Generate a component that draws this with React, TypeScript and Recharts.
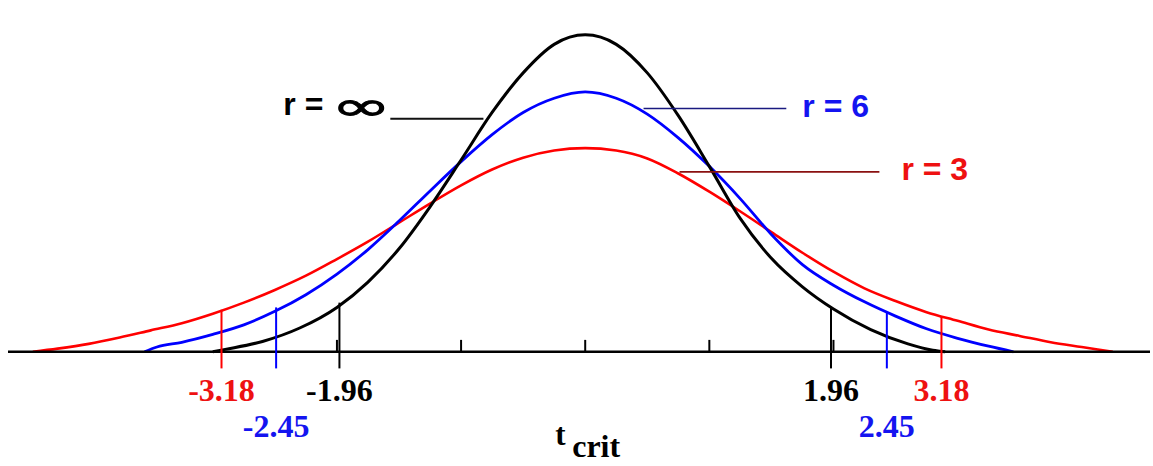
import React from "react";
import { LineChart, Line, XAxis, YAxis, ReferenceLine } from "recharts";

// r = infinity (normal) curve
const infX = [-3.0, -2.9, -2.6, -2.3, -2.0, -1.75, -1.5, -1.25, -1.0, -0.75, -0.5, -0.25, 0, 0.25, 0.5, 0.75, 1.0, 1.25, 1.5, 1.75, 2.0, 2.3, 2.6, 2.8, 2.9];
const infY = [0, 0.003, 0.013, 0.03, 0.056, 0.088, 0.13, 0.183, 0.242, 0.302, 0.352, 0.388, 0.4, 0.388, 0.352, 0.298, 0.234, 0.168, 0.118, 0.082, 0.054, 0.028, 0.01, 0.002, 0];

// r = 6
const r6X = [-3.55, -3.45, -3.25, -3.0, -2.75, -2.5, -2.25, -2.0, -1.75, -1.5, -1.25, -1.0, -0.75, -0.5, -0.25, 0, 0.25, 0.5, 0.75, 1.0, 1.25, 1.5, 1.75, 2.0, 2.25, 2.5, 2.75, 3.0, 3.25, 3.45];
const r6Y = [0, 0.006, 0.012, 0.022, 0.034, 0.051, 0.072, 0.098, 0.129, 0.165, 0.203, 0.24, 0.274, 0.302, 0.32, 0.328, 0.32, 0.3, 0.27, 0.234, 0.193, 0.148, 0.11, 0.084, 0.063, 0.045, 0.029, 0.017, 0.007, 0];

// r = 3
const r3X = [-4.45, -4.25, -4.0, -3.75, -3.5, -3.25, -3.0, -2.75, -2.5, -2.25, -2.0, -1.75, -1.5, -1.25, -1.0, -0.75, -0.5, -0.25, 0, 0.25, 0.5, 0.75, 1.0, 1.25, 1.5, 1.75, 2.0, 2.25, 2.5, 2.75, 3.0, 3.25, 3.5, 3.75, 4.0, 4.25];
const r3Y = [0, 0.004, 0.01, 0.018, 0.027, 0.036, 0.048, 0.062, 0.078, 0.096, 0.117, 0.139, 0.163, 0.187, 0.21, 0.23, 0.245, 0.254, 0.257, 0.254, 0.244, 0.225, 0.202, 0.177, 0.151, 0.125, 0.101, 0.08, 0.064, 0.05, 0.039, 0.028, 0.02, 0.012, 0.006, 0];

// critical values: where the tick is drawn, how high it reaches, and its label
const critPos = [-2.93, -2.49, -1.98, 1.98, 2.43, 2.87];
const critTop = [0.053, 0.056, 0.062, 0.057, 0.049, 0.044];
const critLabels = ["-3.18", "-2.45", "-1.96", "1.96", "2.45", "3.18"];
const critSeries = ["r3", "r6", "inf", "inf", "r6", "r3"];
const critBottom = -0.021;

const minorTicks = [-2, -1, 0, 1, 2];

// pointer lines to the curve names
const leaderSeries = ["inf", "r6", "r3"];
const leaderFrom = [-1.57, 0.47, 0.76];
const leaderTo = [-0.82, 1.62, 2.37];
const leaderY = [0.294, 0.307, 0.227];

const W = 1153;
const H = 466;

const colors: Record<string, string> = { inf: "#000000", r6: "#0000ff", r3: "#ff0000" };
const textColors: Record<string, string> = { inf: "#000000", r6: "#1414f0", r3: "#ee1111" };
const leaderColors: Record<string, string> = { inf: "#111111", r6: "#1a1a80", r3: "#8a1010" };
// blue labels sit on a second row
const labelDrop: Record<string, number> = { inf: 33, r6: 69, r3: 33 };

const zip = (xs: number[], ys: number[]) => xs.map((x, i) => ({ x, y: ys[i] }));

const serif = "'Liberation Serif', 'Times New Roman', serif";
const sans = "'Liberation Sans', Arial, sans-serif";

const critLabel = (text: string, series: string) => (p: any) => {
  const vb = p.viewBox;
  return (
    <text
      x={vb.x + vb.width / 2}
      y={vb.y + vb.height + labelDrop[series]}
      textAnchor="middle"
      fill={textColors[series]}
      fontFamily={serif}
      fontWeight="bold"
      fontSize={32}
    >
      {text}
    </text>
  );
};

const leaderLabel = (series: string) => (p: any) => {
  const vb = p.viewBox;
  if (series === "inf") {
    return (
      <g>
        <text x={vb.x - 107} y={vb.y - 4} fill="#000" fontFamily={sans} fontWeight="bold" fontSize={32}>
          r =
        </text>
        <text
          transform={`translate(${vb.x - 59}, ${vb.y + 1}) scale(1.8, 1)`}
          fill="#000"
          stroke="#000"
          strokeWidth={0.9}
          fontFamily="'DejaVu Sans', sans-serif"
          fontSize={40}
        >
          ∞
        </text>
      </g>
    );
  }
  const gap = series === "r6" ? 16 : 22;
  return (
    <text
      x={vb.x + vb.width + gap}
      y={vb.y + 8}
      fill={textColors[series]}
      fontFamily={sans}
      fontWeight="bold"
      fontSize={32}
    >
      {series === "r6" ? "r = 6" : "r = 3"}
    </text>
  );
};

const tCritLabel = (p: any) => {
  const vb = p.viewBox;
  const bottom = vb.y + vb.height;
  return (
    <g fill="#000" fontFamily={serif} fontWeight="bold">
      <text x={vb.x - 30} y={bottom + 93} fontSize={31}>
        t
      </text>
      <text x={vb.x - 13} y={bottom + 105} fontSize={32}>
        crit
      </text>
    </g>
  );
};

export default function App() {
  return (
    <div style={{ position: "absolute", left: 0, top: 0, width: W, height: H, background: "#fff" }}>
      <LineChart width={W} height={H} margin={{ top: 19, right: 3, bottom: 35, left: 8 }}>
        <XAxis type="number" dataKey="x" domain={[-4.65, 4.55]} hide allowDataOverflow />
        <YAxis type="number" domain={[-0.1, 0.42]} hide allowDataOverflow />

        <Line data={zip(r3X, r3Y)} dataKey="y" type="monotone" stroke={colors.r3} strokeWidth={2.6} dot={false} isAnimationActive={false} />
        <Line data={zip(r6X, r6Y)} dataKey="y" type="monotone" stroke={colors.r6} strokeWidth={2.8} dot={false} isAnimationActive={false} />
        <Line data={zip(infX, infY)} dataKey="y" type="monotone" stroke={colors.inf} strokeWidth={3} dot={false} isAnimationActive={false} />

        <ReferenceLine y={0} stroke="#000" strokeWidth={2.5} />

        {minorTicks.map((t) => (
          <ReferenceLine
            key={"m" + t}
            segment={[{ x: t, y: 0 }, { x: t, y: 0.015 }]}
            stroke="#000"
            strokeWidth={2}
            label={t === 0 ? tCritLabel : undefined}
          />
        ))}

        {critPos.map((x, i) => (
          <ReferenceLine
            key={"c" + i}
            segment={[{ x, y: critBottom }, { x, y: critTop[i] }]}
            stroke={colors[critSeries[i]]}
            strokeWidth={2}
            ifOverflow="visible"
            label={critLabel(critLabels[i], critSeries[i])}
          />
        ))}

        {leaderSeries.map((s, i) => (
          <ReferenceLine
            key={"l" + s}
            segment={[{ x: leaderFrom[i], y: leaderY[i] }, { x: leaderTo[i], y: leaderY[i] }]}
            stroke={leaderColors[s]}
            strokeWidth={s === "inf" ? 2 : 1.6}
            ifOverflow="visible"
            label={leaderLabel(s)}
          />
        ))}
      </LineChart>
    </div>
  );
}
